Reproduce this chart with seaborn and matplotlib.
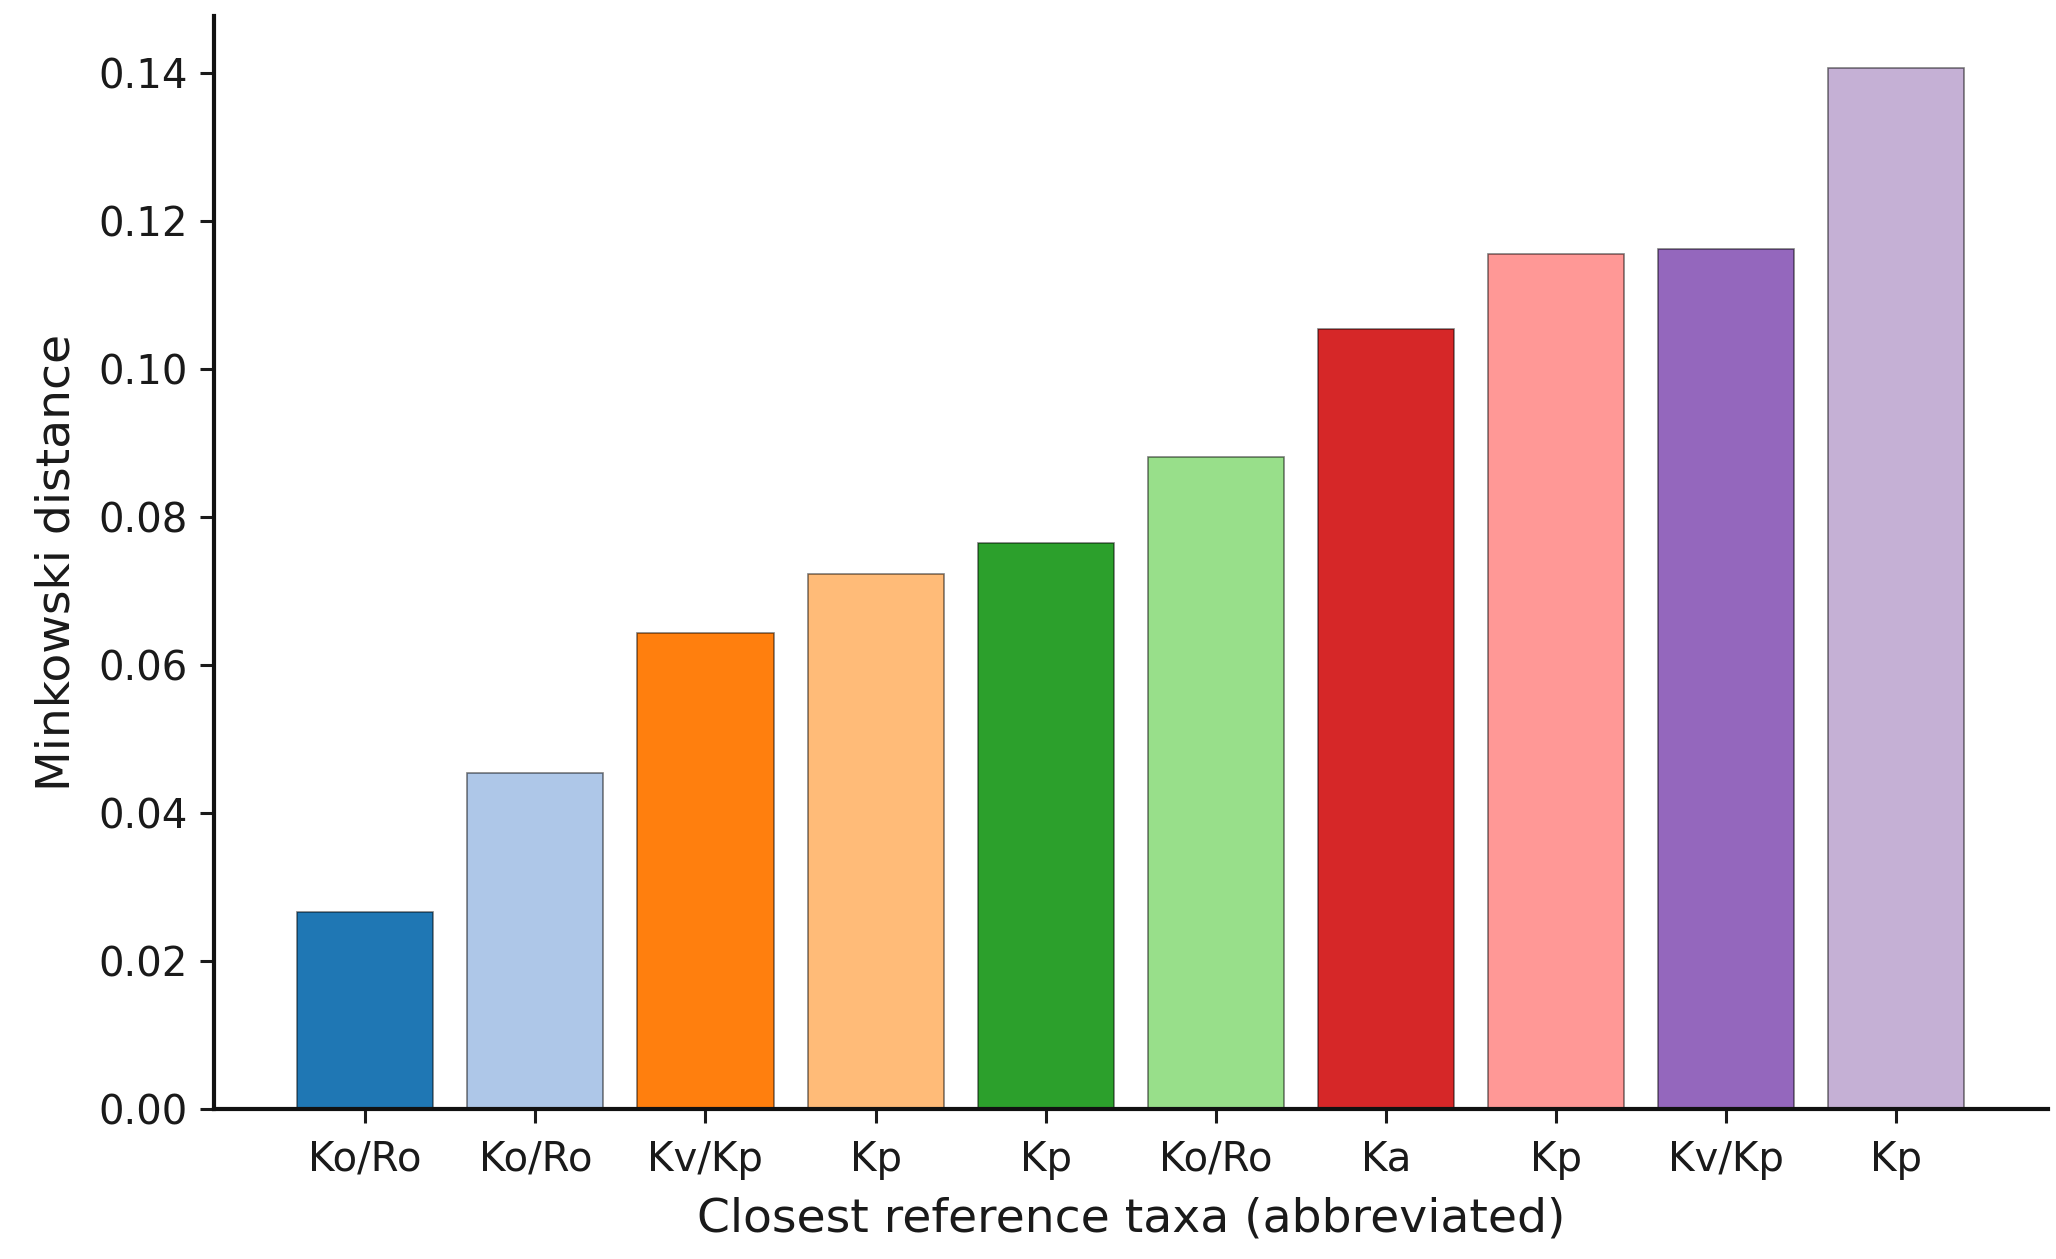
import matplotlib
matplotlib.use("Agg")
import matplotlib.pyplot as plt
import seaborn as sns
import pandas as pd

# Data
labels = ["Ko/Ro", "Ko/Ro", "Kv/Kp", "Kp", "Kp", "Ko/Ro", "Ka", "Kp", "Kv/Kp", "Kp"]
values = [0.0267, 0.0455, 0.0644, 0.0724, 0.0765, 0.0881, 0.1055, 0.1156, 0.1163, 0.1407]
bar_ids = [str(i) for i in range(len(values))]
colors = ["#1f77b4", "#aec7e8", "#ff7f0e", "#ffbb78", "#2ca02c",
          "#98df8a", "#d62728", "#ff9896", "#9467bd", "#c5b0d5"]

df = pd.DataFrame({"bar": bar_ids, "value": values, "label": labels})

sns.set_theme(style="ticks")
plt.rcParams["font.family"] = ["DejaVu Sans"]

fig = plt.figure(figsize=(20.56, 12.59), dpi=100)
ax = fig.add_axes([0.104, 0.119, 0.892, 0.868])

sns.barplot(data=df, x="bar", y="value", hue="bar", order=bar_ids,
            hue_order=bar_ids, palette=colors, width=0.8, legend=False,
            edgecolor=(0, 0, 0, 0.5), linewidth=1.2, ax=ax, saturation=1)

ax.set_xticks(range(len(labels)))
ax.set_xticklabels(labels)
ax.set_xlim(-0.89, 9.89)
ax.set_ylim(0, 0.1477)
ax.set_yticks([0.00, 0.02, 0.04, 0.06, 0.08, 0.10, 0.12, 0.14])
ax.set_yticklabels(["0.00", "0.02", "0.04", "0.06", "0.08", "0.10", "0.12", "0.14"])

ax.set_xlabel("Closest reference taxa (abbreviated)", fontsize=34, color="#1a1a1a", labelpad=12)
ax.set_ylabel("Minkowski distance", fontsize=34, color="#1a1a1a", labelpad=13)
ax.tick_params(axis="both", labelsize=29, length=10, width=2.2, colors="#1a1a1a", pad=9)
ax.tick_params(axis="x", pad=12)

sns.despine(ax=ax)
for s in ["left", "bottom"]:
    ax.spines[s].set_linewidth(3)
    ax.spines[s].set_color("#111111")

fig.savefig("out.png", dpi=100)
